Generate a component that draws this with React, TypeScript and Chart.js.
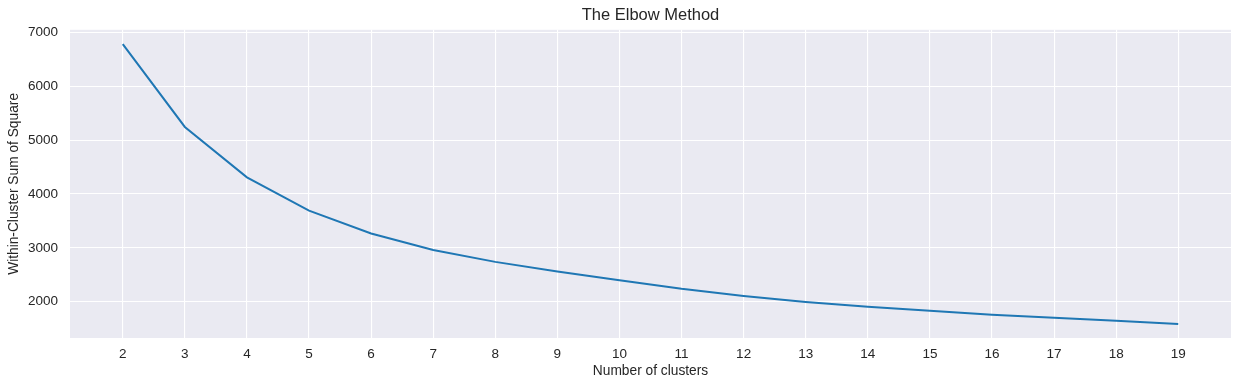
import React, { useEffect, useRef } from "react";
import { Chart, registerables } from "chart.js";

Chart.register(...registerables);

const clusters = [2, 3, 4, 5, 6, 7, 8, 9, 10, 11, 12, 13, 14, 15, 16, 17, 18, 19];
const wcss = [6785, 5245, 4310, 3692, 3265, 2961, 2739, 2560, 2399, 2238, 2103, 1993, 1907, 1833, 1759, 1703, 1647, 1585];
const xTickValues = [2, 3, 4, 5, 6, 7, 8, 9, 10, 11, 12, 13, 14, 15, 16, 17, 18, 19];
const yTickValues = [2000, 3000, 4000, 5000, 6000, 7000];

const TEXT = "#262626";
const FONT = "'Liberation Sans', Arial, sans-serif";

const bgPlugin = {
  id: "plotBg",
  beforeDraw(chart: any) {
    const { ctx, chartArea } = chart;
    ctx.save();
    ctx.fillStyle = "#EAEAF2";
    ctx.fillRect(chartArea.left, chartArea.top, chartArea.right - chartArea.left, chartArea.bottom - chartArea.top);
    ctx.restore();
  },
};

export default function App() {
  const ref = useRef<HTMLCanvasElement | null>(null);
  useEffect(() => {
    if (!ref.current) return;
    const chart = new Chart(ref.current, {
      type: "line",
      data: {
        datasets: [
          {
            data: clusters.map((c, i) => ({ x: c, y: wcss[i] })),
            borderColor: "#1f77b4",
            backgroundColor: "#1f77b4",
            borderWidth: 2,
            pointRadius: 0,
            tension: 0,
            fill: false,
          },
        ],
      },
      options: {
        animation: false,
        responsive: false,
        layout: { padding: { left: 0, right: 10, top: 0, bottom: 0 } },
        plugins: {
          legend: { display: false },
          tooltip: { enabled: false },
          title: {
            display: true,
            text: "The Elbow Method",
            fullSize: false,
            color: TEXT,
            font: { family: FONT, size: 16.5, weight: "normal" },
            padding: { top: 6, bottom: 4 },
          },
        },
        scales: {
          x: {
            type: "linear",
            min: 1.15,
            max: 19.85,
            afterBuildTicks: (scale: any) => {
              scale.ticks = xTickValues.map((v) => ({ value: v }));
            },
            afterFit: (scale: any) => {
              scale.height = 49;
            },
            grid: { color: "#ffffff", lineWidth: 1.1, drawTicks: false },
            border: { display: false },
            ticks: {
              color: TEXT,
              font: { family: FONT, size: 13.5 },
              padding: 8,
              maxRotation: 0,
              autoSkip: false,
              callback: (v: any) => String(v),
            },
            title: {
              display: true,
              text: "Number of clusters",
              color: TEXT,
              font: { family: FONT, size: 13.75 },
              padding: { top: 0, bottom: 8 },
            },
          },
          y: {
            type: "linear",
            min: 1325,
            max: 7050,
            afterBuildTicks: (scale: any) => {
              scale.ticks = yTickValues.map((v) => ({ value: v }));
            },
            afterFit: (scale: any) => {
              scale.width = 70;
            },
            grid: { color: "#ffffff", lineWidth: 1.1, drawTicks: false },
            border: { display: false },
            ticks: {
              color: TEXT,
              font: { family: FONT, size: 13.5 },
              padding: 12,
              callback: (v: any) => String(v),
            },
            title: {
              display: true,
              text: "Within-Cluster Sum of Square",
              color: TEXT,
              font: { family: FONT, size: 13.75 },
              padding: { top: 6, bottom: 0 },
            },
          },
        },
      },
      plugins: [bgPlugin],
    } as any);
    return () => chart.destroy();
  }, []);
  return (
    <div style={{ position: "absolute", left: 0, top: 0, width: 1241, height: 387, background: "#ffffff" }}>
      <canvas ref={ref} width={1241} height={387} style={{ display: "block" }} />
    </div>
  );
}
